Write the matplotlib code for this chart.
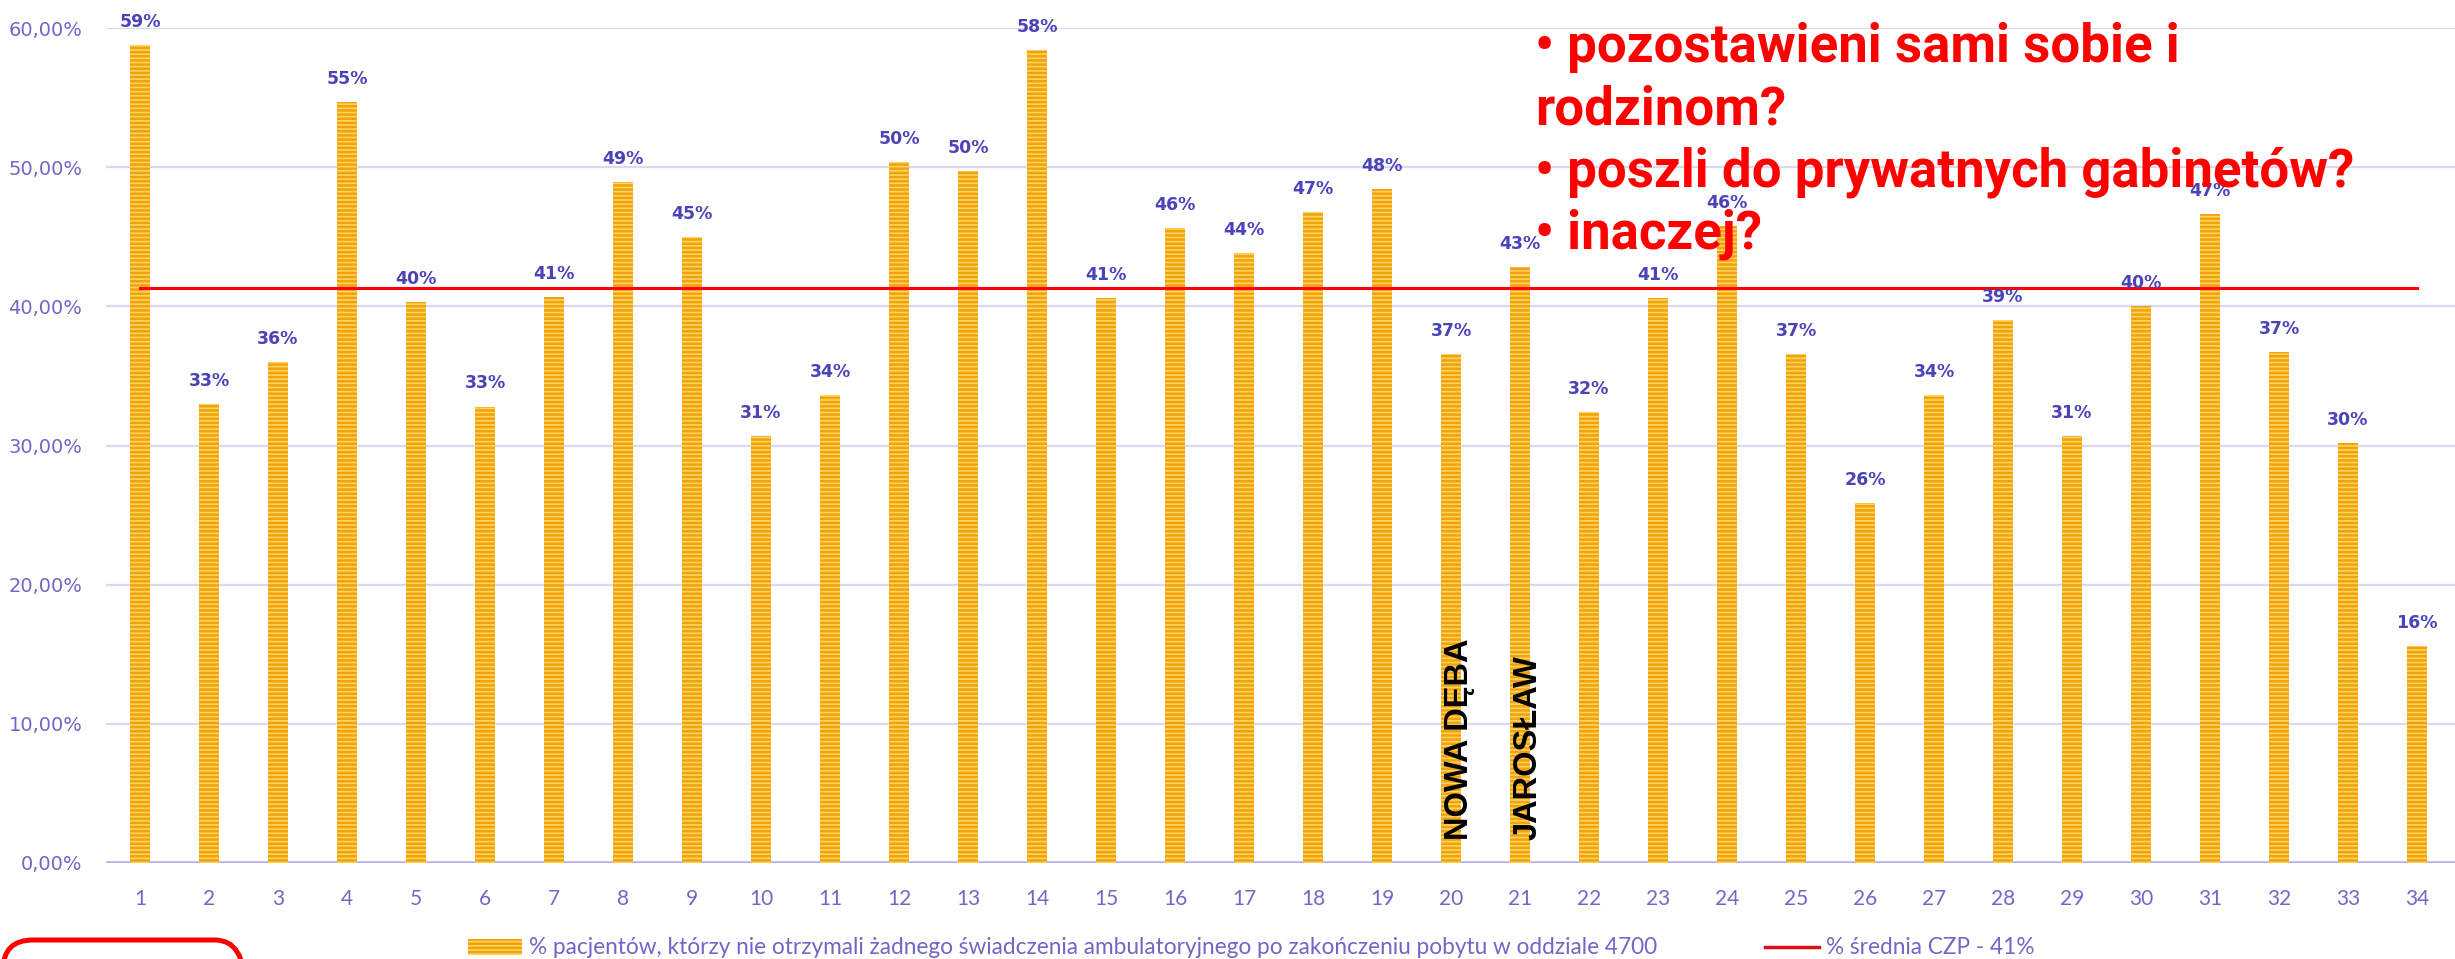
import matplotlib
matplotlib.use("Agg")
import matplotlib.pyplot as plt
from matplotlib.patches import FancyBboxPatch, Patch
from matplotlib.lines import Line2D

# ---- data ----
categories = list(range(1, 35))
values = [58.8, 33.0, 36.0, 54.7, 40.3, 32.8, 40.7, 48.9, 45.0, 30.7,
          33.6, 50.4, 49.7, 58.4, 40.6, 45.6, 43.8, 46.8, 48.4, 36.6,
          42.8, 32.4, 40.6, 45.8, 36.6, 25.9, 33.6, 39.0, 30.7, 40.0,
          46.6, 36.7, 30.2, 15.6]
average = 41.3
yticks = [0, 10, 20, 30, 40, 50, 60]
ytick_labels = ["0,00%", "10,00%", "20,00%", "30,00%", "40,00%", "50,00%", "60,00%"]
legend_bar = "% pacjentów, którzy nie otrzymali żadnego świadczenia ambulatoryjnego po zakończeniu pobytu w oddziale 4700"
legend_line = "% średnia CZP - 41%"
annotations = [(20, "NOWA DĘBA"), (21, "JAROSŁAW")]
questions = ["• pozostawieni sami sobie i", "rodzinom?",
             "• poszli do prywatnych gabinetów?", "• inaczej?"]

W, H = 2455, 959
plt.rcParams['hatch.linewidth'] = 1.8
fig = plt.figure(figsize=(W / 100, H / 100), dpi=100)
ax = fig.add_axes([106 / W, (H - 863) / H, (W - 106) / W, (863 - 28) / H])

tick_color = '#6E68C6'
label_color = '#4B44B8'
bar_face = '#FFD45E'
bar_hatch = '#F2A20C'

ax.bar(categories, values, width=0.3, color=bar_face, edgecolor=bar_hatch,
       hatch='----', linewidth=0, zorder=3)
for x, v in zip(categories, values):
    ax.annotate(f"{v:.0f}%", (x, v), xytext=(0, 13), textcoords='offset points',
                ha='center', va='baseline', fontsize=12.5, fontweight='bold',
                color=label_color, zorder=5, annotation_clip=False)

ax.plot(categories, [average] * len(categories), color='#FF0000', lw=2.2, zorder=4)

ax.set_xlim(0.507, 34.55)
ax.set_ylim(0, 60)
ax.set_yticks(yticks)
ax.set_yticklabels(ytick_labels)
ax.set_xticks(categories)
ax.set_xticklabels([str(c) for c in categories])
for sp in ax.spines.values():
    sp.set_visible(False)
ax.tick_params(axis='both', length=0, colors=tick_color)
ax.tick_params(axis='y', pad=17, labelsize=14)
ax.tick_params(axis='x', pad=19, labelsize=15)
for t in ax.get_xticklabels():
    t.set_fontfamily('Lato')
for y in yticks[1:]:
    ax.axhline(y, color='#DAD8F2', lw=1.6, zorder=1)
ax.axhline(0, color='#B8B2E8', lw=2.6, zorder=2)

for x, txt in annotations:
    ax.text(x + 0.12, 1.65, txt, rotation=90, ha='center', va='bottom',
            fontsize=23.5, fontweight='bold', family='Liberation Sans',
            color='black', zorder=6)

# red questions
baselines = [62, 124, 186, 248]
for txt, yb in zip(questions, baselines):
    fig.text(1535 / W, 1 - yb / H, txt, ha='left', va='baseline', fontsize=38,
             fontweight='bold', family='Roboto', color='#FF0000', zorder=10)

# legend (two entries placed separately)
leg_kw = dict(loc='center left', frameon=False, borderpad=0, borderaxespad=0,
              handlelength=2.4, handletextpad=0.3,
              prop={'family': 'Lato', 'size': 16.3})
leg1 = fig.legend([Patch(facecolor=bar_face, edgecolor=bar_hatch, hatch='----', linewidth=0)],
                  [legend_bar], bbox_to_anchor=(468 / W, 1 - 948 / H), **leg_kw)
leg2 = fig.legend([Line2D([0], [0], color='#E0101A', lw=2.5)],
                  [legend_line], bbox_to_anchor=(1765 / W, 1 - 948 / H), **leg_kw)
for lg in (leg1, leg2):
    for t in lg.get_texts():
        t.set_color(tick_color)

# red rounded box (bottom left)
box = FancyBboxPatch((0.03, -0.6), 2.42, 0.79, boxstyle="round,pad=0,rounding_size=0.3",
                     transform=fig.dpi_scale_trans, fill=False, edgecolor='#FF0000',
                     linewidth=3.6, zorder=10)
fig.patches.append(box)

fig.savefig("out.png", dpi=100)
